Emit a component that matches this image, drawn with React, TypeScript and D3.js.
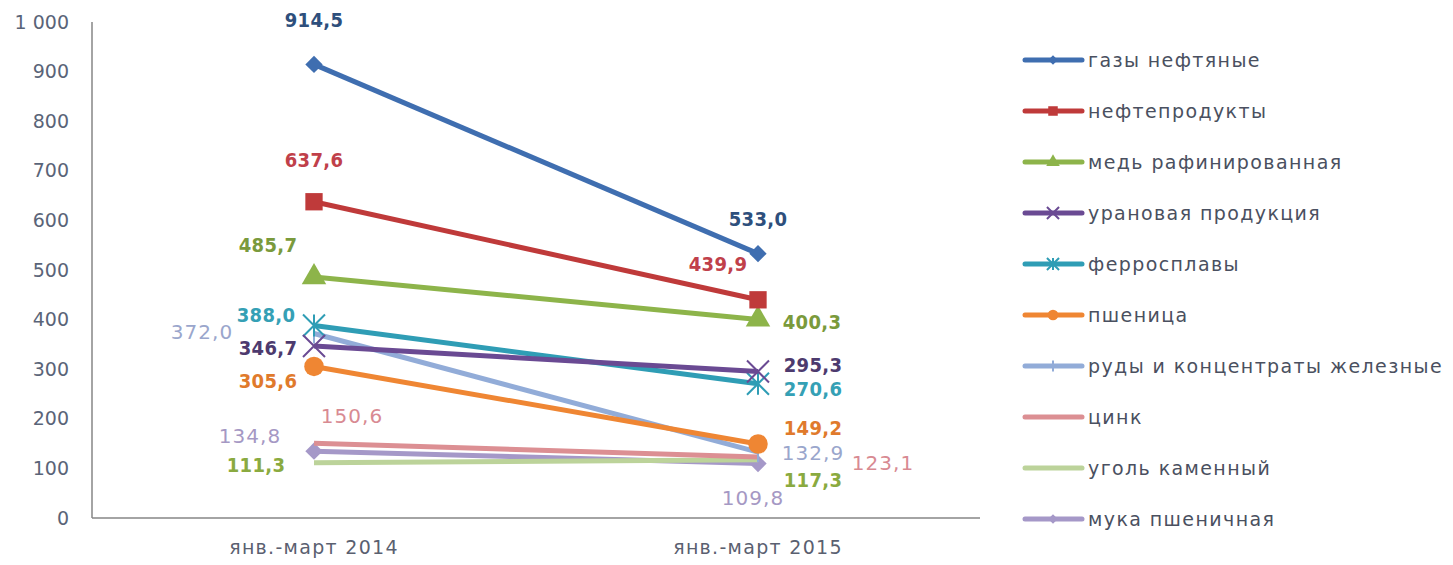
import React, { useEffect, useRef } from "react";
import * as d3 from "d3";

// periods
const periods = ["янв.-март 2014", "янв.-март 2015"];

// series names, in legend order
const names = [
  "газы нефтяные",
  "нефтепродукты",
  "медь рафинированная",
  "урановая продукция",
  "ферросплавы",
  "пшеница",
  "руды и концентраты железные",
  "цинк",
  "уголь каменный",
  "мука пшеничная",
];

// values for 2014 and 2015
const gas = [914.5, 533.0];
const oilProducts = [637.6, 439.9];
const copper = [485.7, 400.3];
const uranium = [346.7, 295.3];
const ferroalloys = [388.0, 270.6];
const wheat = [305.6, 149.2];
const ironOre = [372.0, 132.9];
const zinc = [150.6, 123.1];
const coal = [111.3, 117.3];
const flour = [134.8, 109.8];

const yTicks = [0, 100, 200, 300, 400, 500, 600, 700, 800, 900, 1000];

const seriesValues = [gas, oilProducts, copper, uranium, ferroalloys, wheat, ironOre, zinc, coal, flour];

// styling per series
const lineColors = ["#3f6eb0", "#bf3a3a", "#8db44a", "#6a4a93", "#2f9db5", "#ef8633", "#92acd8", "#dc8f93", "#bcd39a", "#a598c8"];
const labelColors = ["#2e4f7c", "#c0404a", "#7a9a3c", "#4d3a6e", "#35a0b5", "#e07a2c", "#9aa6cc", "#d88a92", "#8aaa40", "#a598c4"];
const markers = ["diamond", "square", "triangle", "x", "star", "circle", "plus", "none", "none", "diamond"];
const boldLabels = [true, true, true, true, true, true, false, false, true, false];
// label offsets [dx, dy] from the point, per period
const labelOffsets = [
  [[0, -44], [0, -35]],
  [[0, -42], [-40, -36]],
  [[-46, -32], [54, 3]],
  [[-46, 2], [55, -7]],
  [[-48, -11], [55, 5]],
  [[-46, 15], [55, -16]],
  [[-112, -1], [55, 1]],
  [[38, -27], [125, 6]],
  [[-58, 2], [55, 20]],
  [[-64, -15], [-5, 34]],
];

const W = 1453;
const H = 565;
const M = { left: 92, right: 980, top: 22, bottom: 518 };

export default function App() {
  const ref = useRef<SVGSVGElement>(null);

  useEffect(() => {
    const svg = d3.select(ref.current);
    svg.selectAll("*").remove();

    const x = d3.scalePoint().domain(periods).range([M.left, M.right]).padding(0.5);
    const y = d3.scaleLinear().domain([0, 1000]).range([M.bottom, M.top]);

    const fmt = (v: number) => v.toFixed(1).replace(".", ",");
    const tickFmt = (v: number) => (v >= 1000 ? d3.format(",")(v).replace(",", " ") : String(v));

    // axes
    svg.append("line")
      .attr("x1", M.left).attr("x2", M.left)
      .attr("y1", M.top).attr("y2", M.bottom)
      .attr("stroke", "#868686").attr("stroke-width", 1.5);
    svg.append("line")
      .attr("x1", M.left).attr("x2", M.right)
      .attr("y1", M.bottom).attr("y2", M.bottom)
      .attr("stroke", "#868686").attr("stroke-width", 1.5);

    svg.append("g")
      .selectAll("text")
      .data(yTicks)
      .join("text")
      .attr("x", 69)
      .attr("y", d => y(d))
      .attr("dy", "0.35em")
      .attr("text-anchor", "end")
      .attr("fill", "#5a6478")
      .style("font", "19px 'DejaVu Sans', sans-serif")
      .text(d => tickFmt(d));

    svg.append("g")
      .selectAll("text")
      .data(periods)
      .join("text")
      .attr("x", d => x(d)!)
      .attr("y", 554)
      .attr("text-anchor", "middle")
      .attr("fill", "#5a6070")
      .style("font", "19px 'DejaVu Sans', sans-serif")
      .style("letter-spacing", "1.3px")
      .text(d => d);

    const symbolFor = (m: string) => {
      switch (m) {
        case "diamond": return d3.symbol(d3.symbolSquare, 150)();
        case "square": return d3.symbol(d3.symbolSquare, 300)();
        case "triangle": return d3.symbol(d3.symbolTriangle, 260)();
        case "circle": return d3.symbol(d3.symbolCircle, 300)();
        default: return null;
      }
    };

    const drawMarker = (g: any, m: string, cx: number, cy: number, color: string, scale: number) => {
      const path = symbolFor(m);
      if (path) {
        g.append("path")
          .attr("d", path)
          .attr("transform", `translate(${cx},${cy}) scale(${scale})` + (m === "diamond" ? " rotate(45)" : ""))
          .attr("fill", color);
      } else if (m === "x") {
        const s = 11 * scale;
        g.append("path")
          .attr("d", `M${cx - s},${cy - s}L${cx + s},${cy + s}M${cx - s},${cy + s}L${cx + s},${cy - s}`)
          .attr("stroke", color).attr("stroke-width", 2);
      } else if (m === "star") {
        const s = 11 * scale;
        g.append("path")
          .attr("d", `M${cx - s},${cy - s}L${cx + s},${cy + s}M${cx - s},${cy + s}L${cx + s},${cy - s}M${cx},${cy - s}L${cx},${cy + s}`)
          .attr("stroke", color).attr("stroke-width", 2);
      } else if (m === "plus") {
        const s = 10 * scale;
        g.append("path")
          .attr("d", `M${cx},${cy - s}L${cx},${cy + s}`)
          .attr("stroke", color).attr("stroke-width", 2);
      }
    };

    const line = d3.line<number>()
      .x((_, i) => x(periods[i])!)
      .y(d => y(d));

    // draw from last to first so first series sits on top
    const order = d3.range(seriesValues.length).reverse();
    const plot = svg.append("g");
    order.forEach(si => {
      const vals = seriesValues[si];
      const g = plot.append("g");
      g.append("path")
        .datum(vals)
        .attr("fill", "none")
        .attr("stroke", lineColors[si])
        .attr("stroke-width", 5)
        .attr("d", line);
      vals.forEach((v, i) => drawMarker(g, markers[si], x(periods[i])!, y(v), lineColors[si], 1));
    });

    // value labels
    const labels = svg.append("g");
    seriesValues.forEach((vals, si) => {
      vals.forEach((v, i) => {
        const [dx, dy] = labelOffsets[si][i];
        const bold = boldLabels[si];
        labels.append("text")
          .attr("x", x(periods[i])! + dx)
          .attr("y", y(v) + dy)
          .attr("dy", "0.35em")
          .attr("text-anchor", "middle")
          .attr("fill", labelColors[si])
          .style("font-family", bold ? "'DejaVu Sans Condensed', 'DejaVu Sans', sans-serif" : "'DejaVu Sans', sans-serif")
          .style("font-size", "20px")
          .style("letter-spacing", bold ? "0.3px" : "1px")
          .style("font-weight", bold ? "bold" : "normal")
          .text(fmt(v));
      });
    });

    // legend
    const legend = svg.append("g");
    names.forEach((n, i) => {
      const ly = 60 + i * 51;
      const g = legend.append("g");
      g.append("line")
        .attr("x1", 1025).attr("x2", 1082)
        .attr("y1", ly).attr("y2", ly)
        .attr("stroke", lineColors[i]).attr("stroke-width", 5)
        .attr("stroke-linecap", "round");
      drawMarker(g, markers[i], 1053, ly, lineColors[i], 0.55);
      g.append("text")
        .attr("x", 1088)
        .attr("y", ly)
        .attr("dy", "0.35em")
        .attr("fill", "#4a5060")
        .style("font", "19px 'DejaVu Sans', sans-serif")
        .style("letter-spacing", "1.4px")
        .text(n);
    });
  }, []);

  return (
    <svg ref={ref} width={W} height={H} style={{ display: "block", position: "absolute", left: 0, top: 0, background: "#fff" }} />
  );
}
